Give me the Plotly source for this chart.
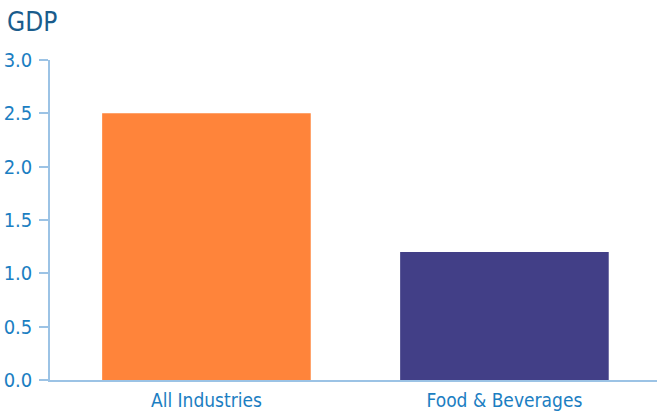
import plotly.graph_objects as go

categories = ["All Industries", "Food & Beverages"]
gdp_values = [2.5, 1.2]
bar_colors = ["#FF843A", "#423F87"]
y_ticks = [0.0, 0.5, 1.0, 1.5, 2.0, 2.5, 3.0]
y_tick_labels = ["0.0", "0.5", "1.0", "1.5", "2.0", "2.5", "3.0"]

FONT = "DejaVu Sans Condensed, Liberation Sans Narrow, sans-serif"
LABEL_BLUE = "#1B7EC2"
AXIS_BLUE = "#9CC3E5"

fig = go.Figure(
    go.Bar(
        x=[0, 1],
        y=gdp_values,
        marker=dict(color=bar_colors, line=dict(width=0)),
        width=0.70,
        hoverinfo="skip",
    )
)

fig.update_layout(
    width=657,
    height=415,
    margin=dict(l=50, r=0, t=60, b=35),
    paper_bgcolor="white",
    plot_bgcolor="white",
    showlegend=False,
    font=dict(family=FONT, color=LABEL_BLUE, size=19),
    annotations=[
        dict(
            text="GDP",
            xref="paper", yref="paper",
            x=-50 / 607, y=1 + 60 / 320,
            xanchor="left", yanchor="top",
            xshift=5, yshift=-5,
            showarrow=False,
            font=dict(family=FONT, size=26, color="#1A5C8C"),
        )
    ],
)

fig.update_xaxes(
    range=[-0.525, 1.512],
    tickmode="array",
    tickvals=[0, 1],
    ticktext=categories,
    showline=True,
    linecolor=AXIS_BLUE,
    linewidth=1.5,
    showgrid=False,
    zeroline=False,
    ticks="",
    tickfont=dict(family=FONT, size=19, color=LABEL_BLUE),
    ticklabelstandoff=2,
)

fig.update_yaxes(
    range=[0, 3],
    tickmode="array",
    tickvals=y_ticks,
    ticktext=y_tick_labels,
    showline=True,
    linecolor=AXIS_BLUE,
    linewidth=1.5,
    showgrid=False,
    zeroline=False,
    ticks="outside",
    ticklen=9,
    tickcolor=AXIS_BLUE,
    tickwidth=1.5,
    tickfont=dict(family=FONT, size=20, color=LABEL_BLUE),
    ticklabelstandoff=3,
)

fig.write_html("out.html")
